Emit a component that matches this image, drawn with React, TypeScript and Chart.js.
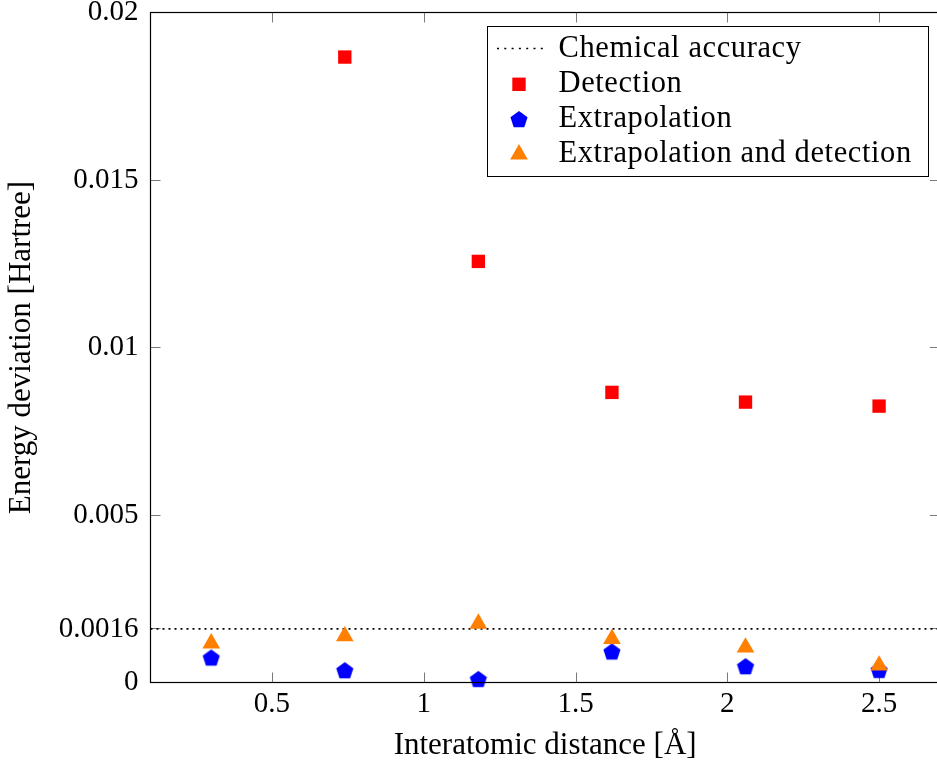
import React, { useEffect, useRef } from 'react';
import { Chart, registerables } from 'chart.js';

Chart.register(...registerables);

// ---- Data ----
const X_VALUES = [0.3, 0.74, 1.18, 1.62, 2.06, 2.5];
const DETECTION: (number | null)[] = [null, 0.01867, 0.01257, 0.00866, 0.00837, 0.00825];
const EXTRAPOLATION = [0.00072, 0.00034, 0.00008, 0.0009, 0.00046, 0.00035];
const EXTRAP_AND_DETECTION = [0.00117, 0.00138, 0.00176, 0.0013, 0.00105, 0.00051];
const CHEMICAL_ACCURACY = 0.0016;

const X_MIN = 0.1;
const X_MAX = 2.7;
const Y_MIN = 0;
const Y_MAX = 0.02;
const X_TICKS = [0.5, 1, 1.5, 2, 2.5];
const X_TICK_LABELS = ['0.5', '1', '1.5', '2', '2.5'];
const Y_TICKS = [0, 0.0016, 0.005, 0.01, 0.015, 0.02];
const Y_TICK_LABELS = ['0', '0.0016', '0.005', '0.01', '0.015', '0.02'];

const SERIES_LABELS = ['Chemical accuracy', 'Detection', 'Extrapolation', 'Extrapolation and detection'];
const X_TITLE = 'Interatomic distance [Å]';
const Y_TITLE = 'Energy deviation [Hartree]';

const RED = '#ff0000';
const BLUE = '#0000ff';
const ORANGE = '#ff8000';
const FONT = "'Liberation Serif', 'Times New Roman', serif";

function pentagonPath(ctx: CanvasRenderingContext2D, cx: number, cy: number, r: number) {
  ctx.beginPath();
  for (let i = 0; i < 5; i++) {
    const a = -Math.PI / 2 + (i * 2 * Math.PI) / 5;
    const px = cx + r * Math.cos(a);
    const py = cy + r * Math.sin(a);
    if (i === 0) ctx.moveTo(px, py);
    else ctx.lineTo(px, py);
  }
  ctx.closePath();
}

function makePentagon(r: number, color: string) {
  const size = 2 * Math.ceil(r + 1);
  const c = document.createElement('canvas');
  c.width = size;
  c.height = size;
  const ctx = c.getContext('2d')!;
  ctx.fillStyle = color;
  pentagonPath(ctx, size / 2, size / 2, r);
  ctx.fill();
  return c;
}

const frameTicksPlugin = {
  id: 'frameTicks',
  beforeDatasetsDraw(chart: any) {
    const { ctx, chartArea: a, scales } = chart;
    const xs = scales.x;
    const ys = scales.y;
    const TL = 10;
    ctx.save();
    ctx.strokeStyle = '#7a7a7a';
    ctx.lineWidth = 1;
    ctx.beginPath();
    X_TICKS.forEach((v) => {
      const px = Math.round(xs.getPixelForValue(v)) + 0.5;
      ctx.moveTo(px, a.bottom);
      ctx.lineTo(px, a.bottom - TL);
      ctx.moveTo(px, a.top);
      ctx.lineTo(px, a.top + TL);
    });
    Y_TICKS.forEach((v) => {
      const py = Math.round(ys.getPixelForValue(v) - 0.5) + 0.5;
      ctx.moveTo(a.left, py);
      ctx.lineTo(a.left + TL, py);
      ctx.moveTo(a.right, py);
      ctx.lineTo(a.right - TL, py);
    });
    ctx.stroke();
    ctx.restore();
  },
  afterDatasetsDraw(chart: any) {
    const { ctx, chartArea: a } = chart;
    ctx.save();
    ctx.strokeStyle = '#000';
    ctx.lineWidth = 1.2;
    ctx.strokeRect(a.left, a.top, a.right - a.left, a.bottom - a.top);
    ctx.restore();
  },
  afterDraw(chart: any) {
    const { ctx } = chart;
    // legend box
    const bx = 487.5, by = 26.5, bw = 441, bh = 150;
    ctx.save();
    ctx.fillStyle = '#fff';
    ctx.fillRect(bx, by, bw, bh);
    ctx.strokeStyle = '#000';
    ctx.lineWidth = 1;
    ctx.strokeRect(bx, by, bw, bh);

    const mx = 519;
    // dotted sample
    ctx.beginPath();
    ctx.setLineDash([2, 5.3]);
    ctx.lineWidth = 1.6;
    ctx.moveTo(497, 48.5);
    ctx.lineTo(543, 48.5);
    ctx.stroke();
    ctx.setLineDash([]);

    // square
    ctx.fillStyle = RED;
    ctx.fillRect(mx - 6.7, 84.3 - 6.7, 13.4, 13.4);
    // pentagon
    ctx.fillStyle = BLUE;
    pentagonPath(ctx, mx, 120, 9);
    ctx.fill();
    // triangle
    ctx.fillStyle = ORANGE;
    const tr = 10.2;
    const tcy = 154.3;
    ctx.beginPath();
    ctx.moveTo(mx, tcy - tr);
    ctx.lineTo(mx + tr * Math.sin((2 * Math.PI) / 3), tcy - tr * Math.cos((2 * Math.PI) / 3));
    ctx.lineTo(mx + tr * Math.sin((4 * Math.PI) / 3), tcy - tr * Math.cos((4 * Math.PI) / 3));
    ctx.closePath();
    ctx.fill();

    ctx.fillStyle = '#000';
    ctx.font = `30.5px ${FONT}`;
    try { (ctx as any).letterSpacing = '0.6px'; } catch (e) { /* ignore */ }
    ctx.textAlign = 'left';
    ctx.textBaseline = 'alphabetic';
    const baselines = [56.7, 91.7, 126.7, 161.7];
    SERIES_LABELS.forEach((t, i) => ctx.fillText(t, 558.5, baselines[i]));
    try { (ctx as any).letterSpacing = '0px'; } catch (e) { /* ignore */ }
    ctx.restore();
  },
};

export default function App() {
  const canvasRef = useRef<HTMLCanvasElement | null>(null);

  useEffect(() => {
    document.body.style.margin = '0';
    document.body.style.overflow = 'hidden';
    const canvas = canvasRef.current;
    if (!canvas) return;

    const pentagon = makePentagon(9, BLUE);
    const pts = (vals: (number | null)[]) =>
      X_VALUES.map((x, i) => ({ x, y: vals[i] })).filter((p) => p.y !== null);

    const chart = new Chart(canvas, {
      type: 'scatter',
      data: {
        datasets: [
          {
            label: SERIES_LABELS[3],
            data: pts(EXTRAP_AND_DETECTION) as any,
            pointStyle: 'triangle',
            pointRadius: 10.2,
            pointBackgroundColor: ORANGE,
            pointBorderWidth: 0,
            borderColor: ORANGE,
            backgroundColor: ORANGE,
            order: 0,
            clip: false,
          },
          {
            label: SERIES_LABELS[2],
            data: pts(EXTRAPOLATION) as any,
            pointStyle: pentagon as any,
            pointRadius: 9,
            pointBackgroundColor: BLUE,
            pointBorderWidth: 0,
            borderColor: BLUE,
            backgroundColor: BLUE,
            order: 1,
            clip: false,
          },
          {
            label: SERIES_LABELS[1],
            data: pts(DETECTION) as any,
            pointStyle: 'rect',
            pointRadius: 9.45,
            pointBackgroundColor: RED,
            pointBorderWidth: 0,
            borderColor: RED,
            backgroundColor: RED,
            order: 2,
            clip: false,
          },
          {
            label: SERIES_LABELS[0],
            data: [
              { x: X_MIN, y: CHEMICAL_ACCURACY },
              { x: X_MAX, y: CHEMICAL_ACCURACY },
            ],
            showLine: true,
            borderColor: '#000',
            borderWidth: 1.6,
            borderDash: [2, 4],
            pointRadius: 0,
            order: 3,
          } as any,
        ],
      },
      options: {
        animation: false,
        responsive: false,
        devicePixelRatio: 1,
        layout: { padding: { left: 0, right: 0.3, top: 12.5, bottom: 0 } },
        plugins: {
          legend: { display: false },
          tooltip: { enabled: false },
        },
        scales: {
          x: {
            type: 'linear',
            min: X_MIN,
            max: X_MAX,
            grid: { display: false, drawTicks: false },
            border: { display: false },
            afterBuildTicks: (scale: any) => {
              scale.ticks = X_TICKS.map((v) => ({ value: v }));
            },
            afterFit: (scale: any) => {
              scale.height = 83.5;
              scale.paddingLeft = 0;
              scale.paddingRight = 0;
            },
            ticks: {
              color: '#000',
              padding: 4,
              maxRotation: 0,
              autoSkip: false,
              font: { family: FONT, size: 29, lineHeight: 1.2 },
              callback: (_v: any, i: number) => X_TICK_LABELS[i],
            },
            title: {
              display: true,
              text: X_TITLE,
              color: '#000',
              font: { family: FONT, size: 31, lineHeight: 1.2 },
              padding: { top: 0, bottom: 1.5 },
            },
          },
          y: {
            type: 'linear',
            min: Y_MIN,
            max: Y_MAX,
            grid: { display: false, drawTicks: false },
            border: { display: false },
            afterBuildTicks: (scale: any) => {
              scale.ticks = Y_TICKS.map((v) => ({ value: v }));
            },
            afterFit: (scale: any) => {
              scale.width = 150.5;
              scale.paddingTop = 0;
              scale.paddingBottom = 0;
            },
            ticks: {
              color: '#000',
              padding: 12,
              autoSkip: false,
              font: { family: FONT, size: 29, lineHeight: 1.2 },
              callback: (_v: any, i: number) => Y_TICK_LABELS[i],
            },
            title: {
              display: true,
              text: Y_TITLE,
              color: '#000',
              font: { family: FONT, size: 31, lineHeight: 1.2 },
              padding: { top: 3.5, bottom: 0 },
            },
          },
        },
      } as any,
      plugins: [frameTicksPlugin],
    });

    return () => chart.destroy();
  }, []);

  return (
    <div style={{ width: 950, height: 766, position: 'relative', overflow: 'hidden' }}>
      <canvas ref={canvasRef} width={950} height={766} style={{ display: 'block' }} />
    </div>
  );
}
